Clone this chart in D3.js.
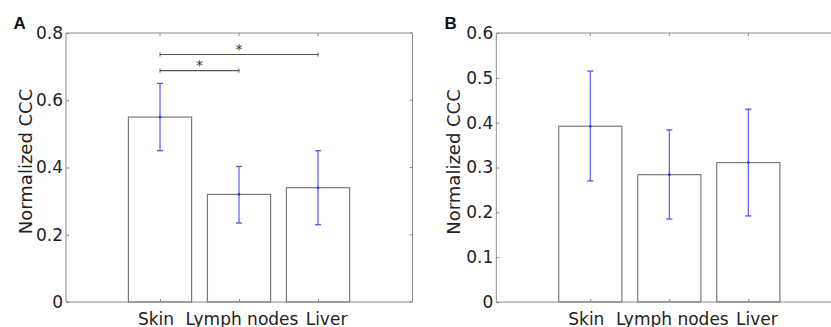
<!DOCTYPE html>
<html><head><meta charset="utf-8">
<script src="https://cdn.jsdelivr.net/npm/d3@7"></script>
<style>body{margin:0;background:#fff;} svg{display:block;}</style>
</head><body>
<svg id="c" width="831" height="327"></svg>
<script>
const categories = ["Skin", "Lymph nodes", "Liver"];
const meanA = [0.55, 0.32, 0.34];
const lowA  = [0.45, 0.235, 0.23];
const highA = [0.65, 0.403, 0.45];
const meanB = [0.392, 0.284, 0.311];
const lowB  = [0.27, 0.185, 0.192];
const highB = [0.515, 0.384, 0.43];
const ticksA = [0, 0.2, 0.4, 0.6, 0.8];
const ticksB = [0, 0.1, 0.2, 0.3, 0.4, 0.5, 0.6];
const sigPairs = [[0, 2, 0.736], [0, 1, 0.688]];

const svg = d3.select("#c");
const font = "DejaVu Sans, Verdana, sans-serif";
const axisCol = "#8a8a8a";
const labelShift = [-4.5, 2.5, 8];

function panel(o) {
  const g = svg.append("g");
  const xs = d3.scaleLinear().domain([-1.19, 3.2]).range([o.left, o.left + 4.39 * o.step]);
  const y = d3.scaleLinear().domain([0, o.max]).range([302, 33]);
  const bw = o.step * 0.8;

  g.selectAll("rect.bar").data(o.mean).join("rect")
    .attr("x", (d, i) => xs(i) - bw / 2).attr("y", d => y(d))
    .attr("width", bw).attr("height", d => y(0) - y(d))
    .attr("fill", "#fff").attr("stroke", "#7a7a7a").attr("stroke-width", 1.2);

  g.append("line").attr("x1", o.left).attr("x2", o.left).attr("y1", 33).attr("y2", 302).attr("stroke", axisCol);
  g.append("line").attr("x1", o.left).attr("x2", o.right).attr("y1", 302).attr("y2", 302).attr("stroke", axisCol);
  g.append("line").attr("x1", o.left).attr("x2", o.right).attr("y1", 33).attr("y2", 33).attr("stroke", axisCol);
  g.append("line").attr("x1", o.right).attr("x2", o.right).attr("y1", 33).attr("y2", 302).attr("stroke", axisCol);

  const ya = d3.axisLeft(y).tickValues(o.ticks).tickSize(-3).tickPadding(3)
    .tickFormat(d => d === 0 ? "0" : d3.format(".1f")(d));
  const yg = g.append("g").attr("transform", `translate(${o.left},0)`).call(ya);
  yg.select(".domain").remove();
  yg.selectAll("line").attr("stroke", axisCol);
  yg.selectAll("text").attr("font-family", font).attr("font-size", 17).attr("fill", "#222");
  g.selectAll("line.rt").data(o.ticks).join("line")
    .attr("x1", o.right).attr("x2", o.right - 3).attr("y1", d => y(d)).attr("y2", d => y(d)).attr("stroke", axisCol);

  const xa = d3.axisBottom(d3.scalePoint().domain(categories).range([xs(0), xs(2)]))
    .tickSize(-3).tickPadding(10.5);
  const xg = g.append("g").attr("transform", "translate(0,302)").call(xa);
  xg.select(".domain").remove();
  xg.selectAll("line").attr("stroke", axisCol);
  xg.selectAll("text").attr("font-family", font).attr("font-size", 17).attr("fill", "#222")
    .attr("dx", (d, i) => labelShift[i]);
  g.selectAll("line.tt").data(categories).join("line")
    .attr("x1", (d, i) => xs(i)).attr("x2", (d, i) => xs(i)).attr("y1", 33).attr("y2", 36).attr("stroke", axisCol);

  const blue = "#5a5aff";
  const eb = g.selectAll("g.eb").data(o.mean).join("g");
  eb.append("line").attr("x1", (d, i) => xs(i)).attr("x2", (d, i) => xs(i))
    .attr("y1", (d, i) => y(o.low[i])).attr("y2", (d, i) => y(o.high[i])).attr("stroke", blue).attr("stroke-width", 1.2);
  eb.append("line").attr("x1", (d, i) => xs(i) - 3).attr("x2", (d, i) => xs(i) + 3)
    .attr("y1", (d, i) => y(o.low[i])).attr("y2", (d, i) => y(o.low[i])).attr("stroke", blue).attr("stroke-width", 1.4);
  eb.append("line").attr("x1", (d, i) => xs(i) - 3).attr("x2", (d, i) => xs(i) + 3)
    .attr("y1", (d, i) => y(o.high[i])).attr("y2", (d, i) => y(o.high[i])).attr("stroke", blue).attr("stroke-width", 1.4);
  eb.append("circle").attr("cx", (d, i) => xs(i)).attr("cy", d => y(d)).attr("r", 1.3).attr("fill", "#2a2aff");

  if (o.sig) {
    o.sig.forEach(([a, b, v]) => {
      const yy = y(v);
      g.append("line").attr("x1", xs(a)).attr("x2", xs(b)).attr("y1", yy).attr("y2", yy).attr("stroke", "#555").attr("stroke-width", 1.2);
      g.append("line").attr("x1", xs(a)).attr("x2", xs(a)).attr("y1", yy - 2).attr("y2", yy + 2).attr("stroke", "#555");
      g.append("line").attr("x1", xs(b)).attr("x2", xs(b)).attr("y1", yy - 2).attr("y2", yy + 2).attr("stroke", "#555");
      g.append("text").attr("x", (xs(a) + xs(b)) / 2).attr("y", yy - 0.5).attr("text-anchor", "middle")
        .attr("font-family", font).attr("font-size", 14).attr("fill", "#333").text("*");
    });
  }

  g.append("text").attr("transform", `translate(${o.labelX},${o.labelY}) rotate(-90)`)
    .attr("text-anchor", "middle").attr("font-family", font).attr("font-size", 18).attr("fill", "#222")
    .text("Normalized CCC");
  g.append("text").attr("x", o.letterX).attr("y", 28.5).attr("font-family", "Liberation Sans, Arial, sans-serif")
    .attr("font-weight", "bold").attr("font-size", 17).attr("fill", "#111").text(o.letter);
}

panel({left: 66, right: 412.5, step: 79, max: 0.8, mean: meanA, low: lowA, high: highA, ticks: ticksA,
       sig: sigPairs, labelX: 31.5, labelY: 161.5, letterX: 13.5, letter: "A"});
panel({left: 496.3, right: 843, step: 79, max: 0.6, mean: meanB, low: lowB, high: highB, ticks: ticksB,
       sig: null, labelX: 460, labelY: 162, letterX: 444.5, letter: "B"});
</script>
</body></html>
